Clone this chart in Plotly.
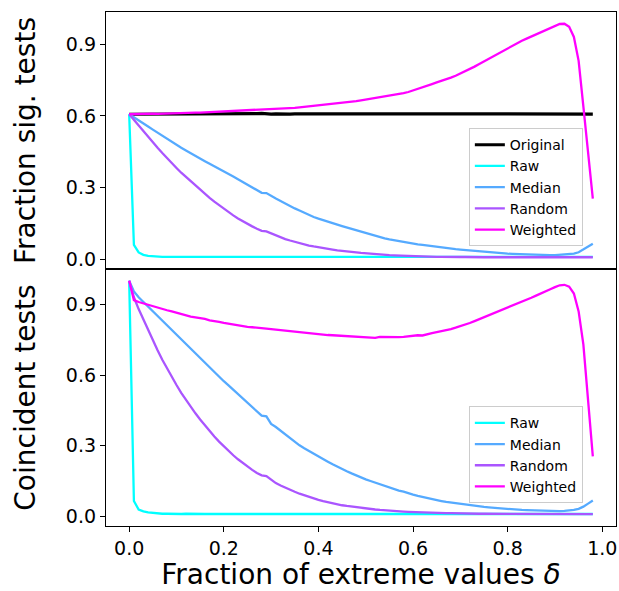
import plotly.graph_objects as go

delta = [round(i * 0.01, 2) for i in range(99)]

top_original = [
    0.607,0.607,0.608,0.607,0.608,0.608,0.607,0.609,0.608,0.608,
    0.609,0.608,0.608,0.609,0.608,0.607,0.608,0.609,0.608,0.609,
    0.608,0.609,0.610,0.608,0.609,0.608,0.609,0.610,0.611,0.609,
    0.608,0.609,0.608,0.607,0.608,0.609,0.609,0.610,0.609,0.608,
    0.609,0.608,0.609,0.610,0.609,0.609,0.608,0.609,0.610,0.609,
    0.608,0.609,0.609,0.610,0.609,0.608,0.609,0.610,0.609,0.610,
    0.609,0.610,0.611,0.610,0.609,0.610,0.609,0.608,0.609,0.610,
    0.609,0.610,0.609,0.610,0.610,0.609,0.610,0.611,0.610,0.609,
    0.610,0.609,0.610,0.610,0.609,0.610,0.609,0.610,0.610,0.609,
    0.610,0.609,0.610,0.609,0.610,0.609,0.610,0.609,0.608]

top_raw = [
    0.607,0.062,0.030,0.020,0.016,0.014,0.013,0.012,0.012,0.012,
    0.012,0.011,0.012,0.011,0.011,0.012,0.011,0.011,0.011,0.012,
    0.011,0.011,0.011,0.011,0.012,0.011,0.011,0.011,0.011,0.011,
    0.011,0.011,0.012,0.011,0.011,0.011,0.011,0.011,0.011,0.011,
    0.011,0.011,0.011,0.011,0.011,0.012,0.011,0.011,0.011,0.011,
    0.011,0.011,0.011,0.011,0.011,0.011,0.011,0.012,0.011,0.011,
    0.011,0.011,0.011,0.011,0.011,0.011,0.011,0.011,0.011,0.012,
    0.011,0.011,0.011,0.011,0.011,0.011,0.011,0.011,0.011,0.011,
    0.012,0.011,0.011,0.011,0.011,0.011,0.011,0.011,0.011,0.011,
    0.012,0.011,0.011,0.011,0.011,0.011,0.011,0.012,0.012]

top_median = [
    0.607,0.595,0.582,0.569,0.556,0.543,0.530,0.517,0.504,0.491,
    0.478,0.467,0.456,0.444,0.433,0.422,0.411,0.400,0.390,0.379,
    0.368,0.358,0.347,0.336,0.325,0.314,0.303,0.292,0.279,0.278,
    0.265,0.255,0.245,0.234,0.224,0.214,0.205,0.195,0.186,0.178,
    0.171,0.164,0.158,0.152,0.146,0.140,0.134,0.128,0.122,0.117,
    0.111,0.105,0.099,0.094,0.089,0.085,0.081,0.077,0.074,0.070,
    0.067,0.064,0.062,0.059,0.056,0.054,0.051,0.049,0.046,0.044,
    0.042,0.040,0.038,0.036,0.034,0.032,0.031,0.029,0.028,0.026,
    0.025,0.024,0.023,0.022,0.021,0.021,0.020,0.020,0.019,0.019,
    0.019,0.020,0.021,0.022,0.025,0.031,0.042,0.053,0.066]

top_random = [
    0.607,0.583,0.559,0.535,0.511,0.489,0.467,0.445,0.423,0.403,
    0.383,0.363,0.345,0.326,0.308,0.291,0.274,0.258,0.242,0.227,
    0.212,0.198,0.185,0.172,0.160,0.149,0.139,0.129,0.120,0.118,
    0.110,0.100,0.093,0.086,0.080,0.074,0.069,0.064,0.059,0.055,
    0.051,0.048,0.045,0.042,0.039,0.036,0.034,0.032,0.030,0.028,
    0.026,0.024,0.022,0.021,0.020,0.019,0.018,0.017,0.016,0.015,
    0.014,0.014,0.013,0.013,0.012,0.012,0.012,0.011,0.011,0.011,
    0.011,0.011,0.010,0.010,0.010,0.010,0.010,0.010,0.010,0.010,
    0.010,0.010,0.010,0.010,0.010,0.010,0.010,0.010,0.010,0.010,
    0.010,0.010,0.010,0.010,0.010,0.010,0.010,0.010,0.010]

top_weighted = [
    0.607,0.608,0.609,0.608,0.609,0.610,0.609,0.610,0.611,0.611,
    0.612,0.612,0.613,0.613,0.614,0.614,0.615,0.616,0.615,0.617,
    0.618,0.619,0.618,0.620,0.621,0.622,0.623,0.625,0.624,0.627,
    0.628,0.629,0.630,0.631,0.633,0.634,0.636,0.638,0.640,0.641,
    0.643,0.645,0.647,0.650,0.652,0.655,0.657,0.660,0.662,0.665,
    0.668,0.671,0.674,0.677,0.680,0.684,0.687,0.691,0.695,0.700,
    0.706,0.712,0.719,0.726,0.733,0.740,0.746,0.753,0.760,0.768,
    0.777,0.786,0.795,0.806,0.817,0.828,0.840,0.851,0.862,0.873,
    0.884,0.894,0.904,0.914,0.923,0.932,0.942,0.951,0.960,0.969,
    0.977,0.984,0.985,0.972,0.930,0.830,0.640,0.450,0.255]

bot_raw = [
    1.000,0.066,0.030,0.022,0.018,0.015,0.013,0.012,0.012,0.011,
    0.011,0.011,0.012,0.011,0.011,0.011,0.011,0.011,0.011,0.011,
    0.011,0.011,0.011,0.011,0.011,0.011,0.012,0.011,0.011,0.011,
    0.011,0.011,0.011,0.011,0.011,0.011,0.011,0.011,0.011,0.011,
    0.011,0.011,0.011,0.011,0.011,0.011,0.011,0.011,0.011,0.011,
    0.011,0.011,0.011,0.011,0.011,0.011,0.011,0.011,0.011,0.011,
    0.011,0.011,0.011,0.011,0.011,0.011,0.011,0.011,0.011,0.011,
    0.011,0.011,0.011,0.011,0.011,0.011,0.011,0.011,0.011,0.011,
    0.011,0.011,0.011,0.011,0.011,0.011,0.011,0.011,0.011,0.011,
    0.011,0.011,0.011,0.011,0.011,0.011,0.011,0.011,0.011]

bot_median = [
    1.000,0.955,0.930,0.910,0.890,0.872,0.852,0.832,0.812,0.792,
    0.772,0.750,0.730,0.710,0.690,0.672,0.650,0.630,0.612,0.592,
    0.574,0.556,0.538,0.520,0.502,0.485,0.466,0.450,0.428,0.425,
    0.393,0.380,0.364,0.347,0.331,0.316,0.302,0.290,0.278,0.266,
    0.255,0.244,0.233,0.222,0.211,0.201,0.192,0.183,0.174,0.166,
    0.158,0.151,0.144,0.137,0.130,0.123,0.116,0.110,0.106,0.098,
    0.093,0.088,0.083,0.078,0.074,0.070,0.066,0.062,0.059,0.056,
    0.053,0.050,0.048,0.045,0.043,0.041,0.039,0.037,0.035,0.033,
    0.031,0.030,0.029,0.028,0.027,0.026,0.025,0.024,0.024,0.023,
    0.023,0.023,0.024,0.025,0.028,0.033,0.042,0.055,0.068]

bot_random = [
    1.000,0.930,0.880,0.835,0.790,0.745,0.705,0.665,0.628,0.592,
    0.558,0.525,0.495,0.466,0.438,0.412,0.387,0.363,0.340,0.318,
    0.298,0.279,0.260,0.243,0.227,0.212,0.198,0.185,0.175,0.172,
    0.155,0.142,0.132,0.122,0.113,0.105,0.097,0.090,0.083,0.077,
    0.071,0.066,0.061,0.056,0.052,0.048,0.045,0.042,0.039,0.036,
    0.034,0.032,0.030,0.028,0.026,0.025,0.023,0.022,0.021,0.020,
    0.019,0.018,0.018,0.017,0.017,0.016,0.016,0.015,0.015,0.014,
    0.014,0.013,0.013,0.013,0.012,0.012,0.012,0.011,0.011,0.011,
    0.011,0.011,0.011,0.010,0.010,0.010,0.010,0.010,0.010,0.010,
    0.010,0.010,0.010,0.010,0.010,0.010,0.010,0.010,0.010]

bot_weighted = [
    1.000,0.918,0.910,0.904,0.897,0.890,0.885,0.880,0.875,0.870,
    0.864,0.858,0.853,0.848,0.845,0.843,0.838,0.832,0.830,0.826,
    0.822,0.818,0.814,0.812,0.808,0.805,0.803,0.802,0.800,0.797,
    0.795,0.793,0.789,0.786,0.785,0.784,0.782,0.779,0.776,0.775,
    0.774,0.772,0.770,0.769,0.768,0.767,0.767,0.766,0.764,0.763,
    0.763,0.761,0.758,0.762,0.761,0.761,0.761,0.761,0.762,0.765,
    0.765,0.769,0.768,0.774,0.778,0.782,0.786,0.789,0.795,0.801,
    0.807,0.813,0.821,0.829,0.837,0.845,0.853,0.861,0.869,0.877,
    0.885,0.894,0.903,0.910,0.918,0.928,0.937,0.947,0.956,0.964,
    0.973,0.981,0.983,0.975,0.946,0.870,0.730,0.510,0.255]

names = ["Raw", "Median", "Random", "Weighted"]
colors = ["#00FFFF", "#55AAFF", "#AA55FF", "#FF00FF"]
top_series = [top_raw, top_median, top_random, top_weighted]
bot_series = [bot_raw, bot_median, bot_random, bot_weighted]

for s in [top_original] + top_series + bot_series:
    assert len(s) == len(delta), len(s)

FONT = "DejaVu Sans"
fig = go.Figure()

fig.add_trace(go.Scatter(x=delta, y=top_original, mode="lines", name="Original",
                         line=dict(color="black", width=3.2),
                         xaxis="x", yaxis="y", legend="legend"))
for nm, c, ys in zip(names, colors, top_series):
    fig.add_trace(go.Scatter(x=delta, y=ys, mode="lines", name=nm,
                             line=dict(color=c, width=2.3),
                             xaxis="x", yaxis="y", legend="legend"))
for nm, c, ys in zip(names, colors, bot_series):
    fig.add_trace(go.Scatter(x=delta, y=ys, mode="lines", name=nm,
                             line=dict(color=c, width=2.3),
                             xaxis="x2", yaxis="y2", legend="legend2"))

axis_common = dict(showline=True, linecolor="black", linewidth=1.3, mirror=True,
                   showgrid=False, zeroline=False,
                   tickfont=dict(family=FONT, size=19, color="black"))

legend_common = dict(bgcolor="white", bordercolor="#cccccc", borderwidth=1,
                     font=dict(family=FONT, size=14, color="black"),
                     xanchor="right", yanchor="top", x=0.935,
                     itemwidth=30, tracegroupgap=0)

fig.update_layout(
    width=619, height=591,
    margin=dict(l=106, r=3, t=12, b=65),
    paper_bgcolor="white", plot_bgcolor="white",
    font=dict(family=FONT, color="black"),
    xaxis=dict(domain=[0, 1], range=[-0.049, 1.029], anchor="y",
               showticklabels=False, ticks="", matches="x2", **axis_common),
    yaxis=dict(domain=[0.5, 1], range=[-0.039, 1.034], anchor="x",
               tickvals=[0, 0.3, 0.6, 0.9], tickformat=".1f",
               ticks="outside", ticklen=5, tickwidth=1.3, tickcolor="black",
               title=dict(text="Fraction sig. tests", standoff=22,
                          font=dict(family=FONT, size=28, color="black")),
               **axis_common),
    xaxis2=dict(domain=[0, 1], range=[-0.049, 1.029], anchor="y2",
                tickvals=[0, 0.2, 0.4, 0.6, 0.8, 1.0], tickformat=".1f",
                ticks="outside", ticklen=5, tickwidth=1.3, tickcolor="black",
                title=dict(text="Fraction of extreme values <i>δ</i>", standoff=8,
                           font=dict(family=FONT, size=28, color="black")),
                **axis_common),
    yaxis2=dict(domain=[0, 0.5], range=[-0.04, 1.05], anchor="x2",
                tickvals=[0, 0.3, 0.6, 0.9], tickformat=".1f",
                ticks="outside", ticklen=5, tickwidth=1.3, tickcolor="black",
                title=dict(text="Coincident tests", standoff=22,
                           font=dict(family=FONT, size=28, color="black")),
                **axis_common),
    legend=dict(y=0.774, **legend_common),
    legend2=dict(y=0.233, **legend_common),
)

fig.write_html("out.html")
